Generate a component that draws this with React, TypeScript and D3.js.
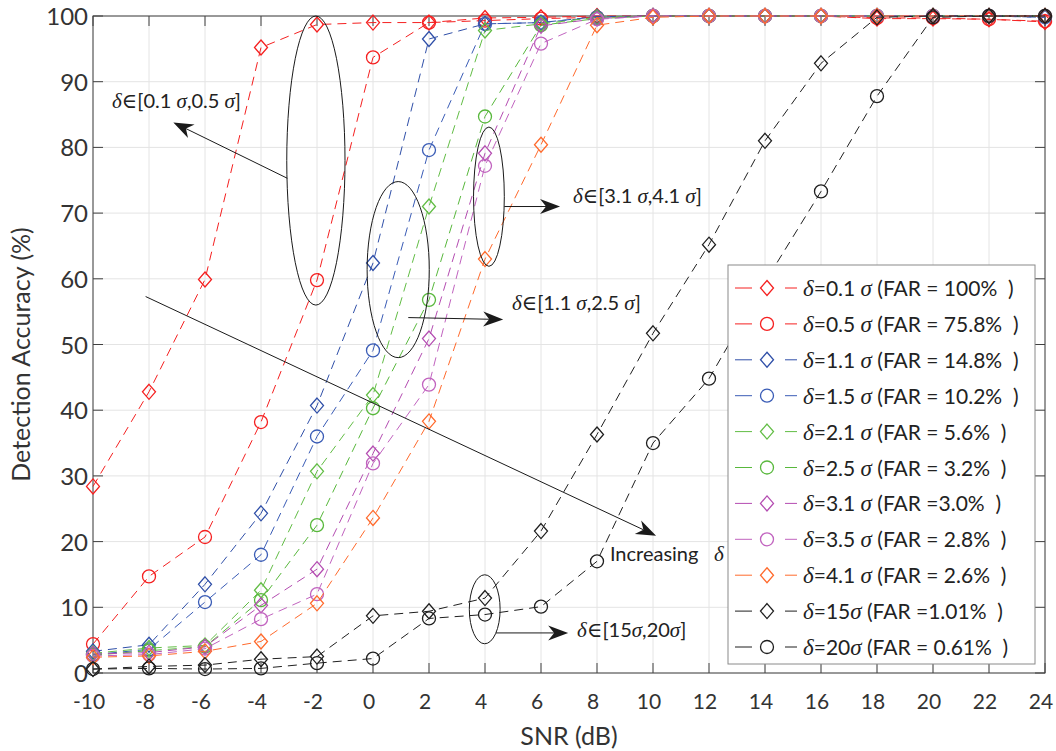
import { useEffect, useRef } from "react"
import * as d3 from "d3"

// SNR (dB) sample points
const snr = [-10, -8, -6, -4, -2, 0, 2, 4, 6, 8, 10, 12, 14, 16, 18, 20, 22, 24]

// detection accuracy (%) for each delta
const acc01 = [28.4, 42.8, 59.9, 95.2, 98.7, 99.0, 99.0, 99.7, 99.8, 100, 100, 100, 100, 100, 99.6, 99.6, 99.5, 99.1]
const acc05 = [4.4, 14.7, 20.7, 38.2, 59.8, 93.7, 99.0, 99.3, 99.6, 99.8, 100, 100, 100, 100, 99.7, 99.7, 99.5, 99.2]
const acc11 = [3.3, 4.3, 13.5, 24.3, 40.7, 62.4, 96.5, 98.8, 99.0, 99.9, 100, 100, 100, 100, 100, 100, 100, 99.8]
const acc15 = [2.8, 3.6, 10.8, 18.0, 36.0, 49.1, 79.6, 98.8, 99.0, 99.8, 100, 100, 100, 100, 100, 100, 100, 99.8]
const acc21 = [3.0, 3.8, 4.2, 12.6, 30.7, 42.3, 71.0, 97.8, 98.8, 99.8, 100, 100, 100, 100, 100, 100, 100, 100]
const acc25 = [2.7, 3.4, 4.0, 11.1, 22.5, 40.3, 56.8, 84.7, 98.6, 99.6, 100, 100, 100, 100, 100, 100, 100, 100]
const acc31 = [2.9, 3.1, 4.0, 10.3, 15.8, 33.4, 50.9, 79.1, 98.5, 99.6, 100, 100, 100, 100, 100, 100, 100, 100]
const acc35 = [2.6, 2.8, 3.7, 8.2, 12.0, 31.9, 43.9, 77.2, 95.8, 99.5, 100, 100, 100, 100, 100, 100, 100, 100]
const acc41 = [2.4, 2.6, 3.3, 4.8, 10.6, 23.6, 38.3, 63.0, 80.4, 98.6, 99.8, 100, 100, 100, 100, 100, 100, 100]
const acc150 = [0.6, 1.0, 1.2, 2.1, 2.5, 8.7, 9.4, 11.4, 21.6, 36.3, 51.7, 65.2, 81.0, 92.8, 99.8, 100, 100, 100]
const acc200 = [0.6, 0.7, 0.6, 0.7, 1.5, 2.2, 8.3, 8.9, 10.1, 17.0, 35.0, 44.8, 59.5, 73.3, 87.8, 99.8, 100, 100]

const seriesValues = [acc01, acc05, acc11, acc15, acc21, acc25, acc31, acc35, acc41, acc150, acc200]
const deltaLabels = ["0.1", "0.5", "1.1", "1.5", "2.1", "2.5", "3.1", "3.5", "4.1", "15", "20"]
const farLabels = ["= 100%", "= 75.8%", "= 14.8%", "= 10.2%", "= 5.6%", "= 3.2%", "=3.0%", "= 2.8%", "= 2.6%", "=1.01%", "= 0.61%"]
const markers = ["diamond", "circle", "diamond", "circle", "diamond", "circle", "diamond", "circle", "diamond", "diamond", "circle"]
const colors = ["#f52020", "#f52020", "#2f4fa8", "#3a5cb6", "#62bd45", "#58b83c", "#b44cb1", "#c163bf", "#ff6a2c", "#1f1f1f", "#1f1f1f"]

const yTicks = [0, 10, 20, 30, 40, 50, 60, 70, 80, 90, 100]

// annotations, in data units (SNR, accuracy)
const ellipses = [
    { cx: -2.04, cy: 78.0, rx: 1.04, ry: 22.0 },
    { cx: 0.9, cy: 61.4, rx: 1.11, ry: 13.4 },
    { cx: 4.14, cy: 72.5, rx: 0.55, ry: 10.6 },
    { cx: 3.99, cy: 9.7, rx: 0.55, ry: 5.25 },
]
const arrows = [
    { x1: -3.06, y1: 75.3, x2: -7.13, y2: 83.8 },
    { x1: 1.26, y1: 54.1, x2: 4.65, y2: 53.8 },
    { x1: 4.69, y1: 71.0, x2: 6.68, y2: 71.0 },
    { x1: 4.39, y1: 6.1, x2: 6.97, y2: 6.1 },
    { x1: -8.12, y1: 57.3, x2: 10.11, y2: 20.9 },
]
const rangeNotes = [
    { x: -9.32, y: 86.0, a: "0.1 ", b: ",0.5 " },
    { x: 7.14, y: 71.5, a: "3.1 ", b: ",4.1 " },
    { x: 4.96, y: 55.3, a: "1.1 ", b: ",2.5 " },
    { x: 7.29, y: 5.5, a: "15", b: ",20" },
]

const W = 1056
const H = 751
const SANS = "Lato, 'Open Sans', sans-serif"
const SERIF = "'Liberation Serif', 'DejaVu Serif', serif"

export default function App() {
    const ref = useRef<SVGSVGElement | null>(null)

    useEffect(() => {
        const svg = d3.select(ref.current)
        svg.selectAll("*").remove()

        const margin = { top: 16, right: 11, bottom: 78, left: 93 }
        const x = d3.scaleLinear().domain([-10, 24]).range([margin.left, W - margin.right])
        const y = d3.scaleLinear().domain([0, 100]).range([H - margin.bottom, margin.top])
        const [x0, x1] = x.range()
        const [y0, y1] = y.range()

        svg.append("rect").attr("width", W).attr("height", H).attr("fill", "#fff")

        // grid
        const grid = svg.append("g").attr("stroke", "#e4e4e4").attr("stroke-width", 1)
        snr.forEach(v => {
            grid.append("line").attr("x1", x(v)).attr("x2", x(v)).attr("y1", y0).attr("y2", y1)
        })
        yTicks.forEach(v => {
            grid.append("line").attr("x1", x0).attr("x2", x1).attr("y1", y(v)).attr("y2", y(v))
        })

        // axes box + inward ticks
        const axis = svg.append("g").attr("stroke", "#404040").attr("stroke-width", 1)
        axis.append("rect")
            .attr("x", x0).attr("y", y1)
            .attr("width", x1 - x0).attr("height", y0 - y1)
            .attr("fill", "none")
        const tl = 10
        snr.forEach(v => {
            axis.append("line").attr("x1", x(v)).attr("x2", x(v)).attr("y1", y0).attr("y2", y0 - tl)
            axis.append("line").attr("x1", x(v)).attr("x2", x(v)).attr("y1", y1).attr("y2", y1 + tl)
        })
        yTicks.forEach(v => {
            axis.append("line").attr("x1", x0).attr("x2", x0 + tl).attr("y1", y(v)).attr("y2", y(v))
            axis.append("line").attr("x1", x1).attr("x2", x1 - tl).attr("y1", y(v)).attr("y2", y(v))
        })

        svg.append("g")
            .selectAll("text")
            .data(snr)
            .join("text")
            .attr("x", d => x(d) - 4)
            .attr("y", y0 + 36)
            .attr("text-anchor", "middle")
            .attr("font-family", SANS)
            .attr("font-size", 21)
            .attr("fill", "#333")
            .text(d => String(d))

        svg.append("g")
            .selectAll("text")
            .data(yTicks)
            .join("text")
            .attr("x", x0 - 5)
            .attr("y", d => y(d) + 9)
            .attr("text-anchor", "end")
            .attr("font-family", SANS)
            .attr("font-size", 24)
            .attr("fill", "#333")
            .text(d => String(d))

        svg.append("text")
            .attr("x", (x0 + x1) / 2)
            .attr("y", 745)
            .attr("text-anchor", "middle")
            .attr("font-family", SANS)
            .attr("font-size", 25)
            .attr("fill", "#333")
            .text("SNR (dB)")

        svg.append("text")
            .attr("transform", `translate(30,${(y0 + y1) / 2 + 10}) rotate(-90)`)
            .attr("text-anchor", "middle")
            .attr("font-family", SANS)
            .attr("font-size", 25)
            .attr("fill", "#333")
            .text("Detection Accuracy (%)")

        // series
        const line = d3.line<number>()
            .x((_, i) => x(snr[i]))
            .y(d => y(d))

        const drawMarker = (g: d3.Selection<SVGGElement, unknown, null, undefined>, kind: string, cx: number, cy: number, color: string) => {
            if (kind === "circle") {
                g.append("circle").attr("cx", cx).attr("cy", cy).attr("r", 6.5)
                    .attr("fill", "none").attr("stroke", color).attr("stroke-width", 1.3)
            } else {
                g.append("path")
                    .attr("d", `M${cx},${cy - 7.5}L${cx + 6.5},${cy}L${cx},${cy + 7.5}L${cx - 6.5},${cy}Z`)
                    .attr("fill", "none").attr("stroke", color).attr("stroke-width", 1.3)
            }
        }

        const plot = svg.append("g")
        seriesValues.forEach((vals, si) => {
            const g = plot.append("g")
            g.append("path")
                .datum(vals)
                .attr("d", line)
                .attr("fill", "none")
                .attr("stroke", colors[si])
                .attr("stroke-width", 1)
                .attr("stroke-dasharray", "9,6")
            vals.forEach((v, i) => drawMarker(g, markers[si], x(snr[i]), y(v), colors[si]))
        })

        // annotations
        const ann = svg.append("g")
        ellipses.forEach(e => {
            ann.append("ellipse")
                .attr("cx", x(e.cx)).attr("cy", y(e.cy))
                .attr("rx", x(e.cx + e.rx) - x(e.cx)).attr("ry", y(e.cy - e.ry) - y(e.cy))
                .attr("fill", "none").attr("stroke", "#1a1a1a").attr("stroke-width", 1)
        })
        arrows.forEach(a => {
            const sx = x(a.x1), sy = y(a.y1), tx = x(a.x2), ty = y(a.y2)
            const ang = Math.atan2(ty - sy, tx - sx)
            const L = 20, hw = 7.5, notch = 14
            const ux = Math.cos(ang), uy = Math.sin(ang)
            const bx = tx - ux * L, by = ty - uy * L
            const nx = tx - ux * notch, ny = ty - uy * notch
            ann.append("line")
                .attr("x1", sx).attr("y1", sy).attr("x2", nx).attr("y2", ny)
                .attr("stroke", "#1a1a1a").attr("stroke-width", 1)
            ann.append("path")
                .attr("d", `M${tx},${ty}L${bx - uy * hw},${by + ux * hw}L${nx},${ny}L${bx + uy * hw},${by - ux * hw}Z`)
                .attr("fill", "#1a1a1a")
        })
        rangeNotes.forEach(n => {
            const t = ann.append("text")
                .attr("x", x(n.x)).attr("y", y(n.y))
                .attr("font-family", SANS).attr("font-size", 20).attr("fill", "#222")
                .style("white-space", "pre")
            t.append("tspan").attr("font-family", SERIF).attr("font-style", "italic").attr("font-size", 21).text("δ")
            t.append("tspan").attr("font-family", SERIF).attr("font-size", 21).text("∈")
            t.append("tspan").text("[" + n.a)
            t.append("tspan").attr("font-family", SERIF).attr("font-style", "italic").attr("font-size", 21).text("σ")
            t.append("tspan").text(n.b)
            t.append("tspan").attr("font-family", SERIF).attr("font-style", "italic").attr("font-size", 21).text("σ")
            t.append("tspan").text("]")
        })
        ann.append("text")
            .attr("x", x(8.46)).attr("y", y(17.0))
            .attr("font-family", SANS).attr("font-size", 20).attr("fill", "#222")
            .text("Increasing")
        ann.append("text")
            .attr("x", x(12.18)).attr("y", y(17.0))
            .attr("font-family", SERIF).attr("font-style", "italic").attr("font-size", 21).attr("fill", "#222")
            .text("δ")

        // legend
        const lg = svg.append("g")
        const lx = 728, ly = 265, lw = 307, lh = 399
        lg.append("rect")
            .attr("x", lx).attr("y", ly).attr("width", lw).attr("height", lh)
            .attr("fill", "#fff").attr("stroke", "#8a8a8a").attr("stroke-width", 1)
        deltaLabels.forEach((d, i) => {
            const cy = ly + 23 + i * 35.9
            const c = colors[i]
            lg.append("line").attr("x1", lx + 7).attr("x2", lx + 24).attr("y1", cy).attr("y2", cy)
                .attr("stroke", c).attr("stroke-width", 1)
            lg.append("line").attr("x1", lx + 57).attr("x2", lx + 69).attr("y1", cy).attr("y2", cy)
                .attr("stroke", c).attr("stroke-width", 1)
            drawMarker(lg, markers[i], lx + 39, cy, c)
            const t = lg.append("text")
                .attr("x", lx + 75).attr("y", cy + 8)
                .attr("font-family", SANS).attr("font-size", 21).attr("fill", "#222")
                .style("white-space", "pre")
            t.append("tspan").attr("font-family", SERIF).attr("font-style", "italic").attr("font-size", 23).text("δ")
            t.append("tspan").text("=" + d + (d.length > 2 ? " " : ""))
            t.append("tspan").attr("font-family", SERIF).attr("font-style", "italic").attr("font-size", 23).text("σ")
            t.append("tspan").text(" (FAR " + farLabels[i] + "  )")
        })
    }, [])

    return (
        <svg
            ref={ref}
            width={W}
            height={H}
            style={{ position: "absolute", left: 0, top: 0, display: "block" }}
        />
    )
}
